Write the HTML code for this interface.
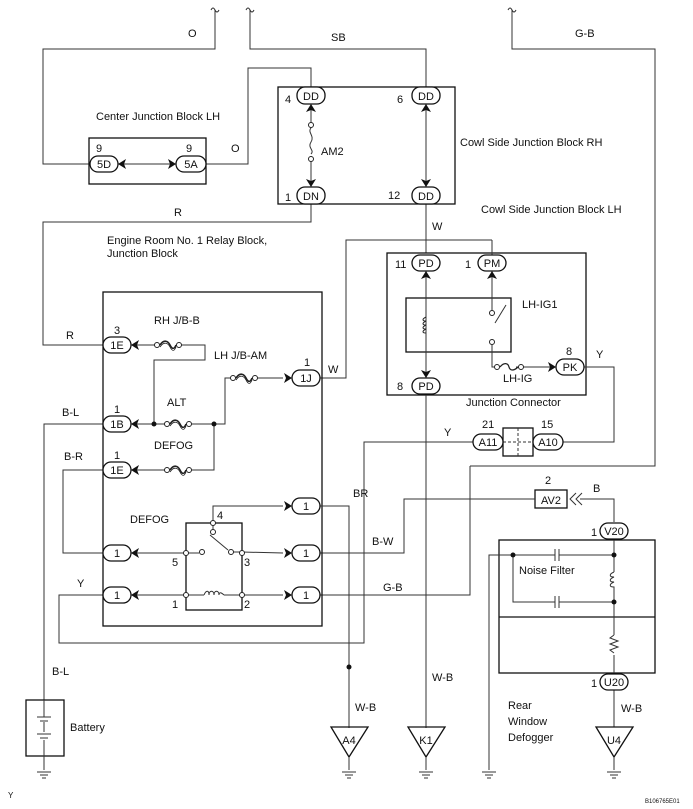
<!DOCTYPE html>
<html><head><meta charset="utf-8"><style>
html,body{margin:0;padding:0;background:#fff}
svg{display:block}
text{font-family:"Liberation Sans",Arial,sans-serif;font-size:11px;fill:#111}
</style></head><body>
<svg width="693" height="809" viewBox="0 0 693 809" xmlns="http://www.w3.org/2000/svg">
<defs>
<g id="chL"><path d="M0,0 L8,-5 L6,0 L8,5 Z" fill="#111"/></g>
<g id="chR"><path d="M0,0 L-8,-5 L-6,0 L-8,5 Z" fill="#111"/></g>
<g id="chU"><path d="M0,0 L-5,8 L0,6 L5,8 Z" fill="#111"/></g>
<g id="chD"><path d="M0,0 L-5,-8 L0,-6 L5,-8 Z" fill="#111"/></g>
<g id="gnd"><line x1="-7" y1="0" x2="7" y2="0" stroke="#333"/><line x1="-4" y1="3" x2="4" y2="3" stroke="#333"/><line x1="-2" y1="6" x2="2" y2="6" stroke="#333"/></g>
<g id="fuse"><circle cx="-11" cy="0" r="2.5" fill="#fff" stroke="#222"/><circle cx="11" cy="0" r="2.5" fill="#fff" stroke="#222"/><path d="M-8,0 C-4,-6 0,-4 2,0 S6,5 8,0" fill="none" stroke="#222" stroke-width="1.6"/><path d="M-8,2 C-4,-4 0,-2 2,2 S6,7 8,2" fill="none" stroke="#222" stroke-width="0.8"/></g>
</defs>
<g fill="none" stroke="#333" stroke-width="1">
<path d="M215,10 L215,49 L43,49 L43,164 L89,164"/>
<path d="M211,10 q2,-4 4,0 q2,4 4,0"/>
<path d="M250,10 L250,49 L426,49 L426,87"/>
<path d="M246,10 q2,-4 4,0 q2,4 4,0"/>
<path d="M512,10 L512,49 L655,49 L655,466 L470,466" />
<path d="M508,10 q2,-4 4,0 q2,4 4,0"/>
<rect x="89" y="138" width="117" height="46" stroke="#111" stroke-width="1.3"/>
<path d="M118,164 L176,164"/>
<path d="M206,164 L248,164 L248,68 L311,68 L311,87"/>
<rect x="278" y="87" width="177" height="117" stroke="#111" stroke-width="1.3"/>
<path d="M311,104 L311,128"/><path d="M311,156 L311,187"/>
<path d="M311,128 c-4,4 4,8 0,14 s4,8 0,12" />
<path d="M426,104 L426,187"/>
<path d="M311,204 L311,222 L43,222 L43,345 L103,345"/>
<path d="M426,204 L426,253"/>
<rect x="387" y="253" width="199" height="142" stroke="#111" stroke-width="1.3"/>
<rect x="406" y="298" width="105" height="54" stroke="#111" stroke-width="1.3"/>
<path d="M426,271 L426,378"/>
<path d="M492,271 L492,311"/>
<path d="M492,240 L492,255 M492,240 L346,240 L346,378 L320,378"/>
<path d="M495,323 L506,305"/>
<path d="M492,345 L492,367 L494,367"/>
<path d="M516,367 L556,367"/>
<path d="M426,395 L426,728"/>
<path d="M584,367 L614,367 L614,442 L563,442"/>
<path d="M473,442 L364,442 L364,643 L59,643 L59,595 L103,595"/>
<rect x="503" y="428" width="30" height="28" stroke="#111" stroke-width="1.3"/>
<path d="M518,428 L518,456 M503,442 L533,442" stroke-dasharray="3,2"/>
<path d="M470,466 L470,595 L320,595"/>
<rect x="535" y="490" width="32" height="18" stroke="#111" stroke-width="1.3"/>
<path d="M535,499 L404,499 L404,553 L320,553"/>
<path d="M580,499 L614,499 L614,522"/>
<path d="M576,493 L570,499 L576,505 M582,493 L576,499 L582,505"/>
<rect x="499" y="540" width="156" height="133" stroke="#111" stroke-width="1.3"/>
<path d="M499,617 L655,617" stroke="#111" stroke-width="1.3"/>
<path d="M614,540 L614,572 M614,592 L614,635 M614,655 L614,673"/>
<path d="M614,572 c-5,2 -5,5 0,5 c-5,2 -5,5 0,5 c-5,2 -5,5 0,5 L614,592"/>
<path d="M614,635 l-4,3 l8,3 l-8,3 l8,3 l-8,3 l4,3"/>
<path d="M489,770 L489,555 L555,555 M559,555 L614,555"/>
<path d="M555,549 L555,561 M559,549 L559,561"/>
<path d="M513,555 L513,602 L555,602 M559,602 L614,602"/>
<path d="M555,596 L555,608 M559,596 L559,608"/>
<path d="M614,690 L614,727"/>
<rect x="103" y="292" width="219" height="334" stroke="#111" stroke-width="1.3"/>
<path d="M131,345 L157,345 M179,345 L205,345 L205,360 L154,360 L154,424"/>
<path d="M131,424 L165,424 M190,424 L225,424 L225,378 L232,378 M256,378 L283,378"/>
<path d="M214,424 L214,470 L190,470 M165,470 L131,470"/>
<path d="M103,424 L44,424 L44,700"/>
<path d="M103,470 L63,470 L63,553 L103,553"/>
<path d="M131,553 L186,553 L199,553"/>
<rect x="186" y="523" width="56" height="87" stroke="#111" stroke-width="1.3"/>
<path d="M213,523 L213,506 L283,506"/>
<path d="M213,523 L213,530"/>
<path d="M210,535 L228,550"/>
<path d="M233,552 L242,552 L283,553"/>
<path d="M131,595 L186,595 L204,595 M224,595 L283,595"/>
<path d="M204,595 c2,-5 5,-5 5,0 c0,-5 5,-5 5,0 c0,-5 5,-5 5,0 c0,-5 5,0 5,0"/>
<path d="M320,506 L349,506 L349,728"/>
<rect x="26" y="700" width="38" height="56" stroke="#111" stroke-width="1.3"/>
<path d="M44,700 L44,717 M37,717 L51,717 M40,721 L48,721 M44,722 L44,732 M37,734 L51,734 M40,738 L48,738 M44,740 L44,770" />
<path d="M331,727 L368,727 L349,757 Z" stroke="#111" stroke-width="1.3"/>
<path d="M408,727 L445,727 L426,757 Z" stroke="#111" stroke-width="1.3"/>
<path d="M596,727 L633,727 L614,757 Z" stroke="#111" stroke-width="1.3"/>
<path d="M349,757 L349,770 M426,757 L426,770 M614,757 L614,770"/>
</g>
<use href="#gnd" x="44" y="772"/><use href="#gnd" x="349" y="772"/><use href="#gnd" x="426" y="772"/><use href="#gnd" x="489" y="772"/><use href="#gnd" x="614" y="772"/>
<g fill="#111"><circle cx="154" cy="424" r="2.5"/><circle cx="214" cy="424" r="2.5"/><circle cx="349" cy="667" r="2.5"/><circle cx="513" cy="555" r="2.5"/><circle cx="614" cy="555" r="2.5"/><circle cx="614" cy="602" r="2.5"/></g>
<g fill="#fff" stroke="#222"><circle cx="311" cy="125" r="2.5"/><circle cx="311" cy="159" r="2.5"/><circle cx="492" cy="313" r="2.5"/><circle cx="492" cy="342" r="2.5"/>
<circle cx="213" cy="523" r="2.5"/><circle cx="213" cy="532" r="2.5"/><circle cx="186" cy="553" r="2.5"/><circle cx="202" cy="552" r="2.5"/><circle cx="231" cy="552" r="2.5"/><circle cx="242" cy="553" r="2.5"/><circle cx="186" cy="595" r="2.5"/><circle cx="242" cy="595" r="2.5"/></g>
<use href="#fuse" x="168" y="345"/><use href="#fuse" x="244" y="378"/><use href="#fuse" x="178" y="424"/><use href="#fuse" x="178" y="470"/>
<g transform="translate(505,367)"><circle cx="-8" cy="0" r="2.5" fill="#fff" stroke="#222"/><circle cx="16" cy="0" r="2.5" fill="#fff" stroke="#222"/><path d="M-5,0 C-1,-5 3,-4 4,0 S9,4 13,0" fill="none" stroke="#222" stroke-width="1.3"/></g>
<path d="M426,317 c-4,2 -4,4 0,4 c-4,2 -4,4 0,4 c-4,2 -4,4 0,4 c-4,2 -4,4 0,4" fill="none" stroke="#222"/>
<g fill="#fff" stroke="#111" stroke-width="1.3">
<rect x="90" y="156" width="28" height="16" rx="8"/><rect x="176" y="156" width="30" height="16" rx="8"/>
<rect x="297" y="87" width="28" height="17" rx="8"/><rect x="297" y="187" width="28" height="17" rx="8"/>
<rect x="412" y="87" width="28" height="17" rx="8"/><rect x="412" y="187" width="28" height="17" rx="8"/>
<rect x="412" y="255" width="28" height="16" rx="8"/><rect x="478" y="255" width="28" height="16" rx="8"/>
<rect x="412" y="378" width="28" height="16" rx="8"/><rect x="556" y="359" width="28" height="16" rx="8"/>
<rect x="473" y="434" width="30" height="16" rx="8"/><rect x="533" y="434" width="30" height="16" rx="8"/>
<rect x="600" y="523" width="28" height="16" rx="8"/><rect x="600" y="674" width="28" height="16" rx="8"/>
<rect x="103" y="337" width="28" height="16" rx="8"/><rect x="103" y="416" width="28" height="16" rx="8"/><rect x="103" y="462" width="28" height="16" rx="8"/>
<rect x="103" y="545" width="28" height="16" rx="8"/><rect x="103" y="587" width="28" height="16" rx="8"/>
<rect x="292" y="370" width="28" height="16" rx="8"/><rect x="292" y="498" width="28" height="16" rx="8"/><rect x="292" y="545" width="28" height="16" rx="8"/><rect x="292" y="587" width="28" height="16" rx="8"/>
</g>
<use href="#chL" x="118" y="164"/><use href="#chR" x="176" y="164"/>
<use href="#chU" x="311" y="104"/><use href="#chD" x="311" y="187"/><use href="#chU" x="426" y="104"/><use href="#chD" x="426" y="187"/>
<use href="#chU" x="426" y="271"/><use href="#chU" x="492" y="271"/><use href="#chD" x="426" y="378"/><use href="#chR" x="556" y="367"/>
<use href="#chL" x="131" y="345"/><use href="#chL" x="131" y="424"/><use href="#chL" x="131" y="470"/><use href="#chL" x="131" y="553"/><use href="#chL" x="131" y="595"/>
<use href="#chR" x="292" y="378"/><use href="#chR" x="292" y="506"/><use href="#chR" x="292" y="553"/><use href="#chR" x="292" y="595"/>
<g text-anchor="middle">
<text x="104" y="168">5D</text><text x="191" y="168">5A</text>
<text x="311" y="100">DD</text><text x="311" y="200">DN</text><text x="426" y="100">DD</text><text x="426" y="200">DD</text>
<text x="426" y="267">PD</text><text x="492" y="267">PM</text><text x="426" y="390">PD</text><text x="570" y="371">PK</text>
<text x="488" y="446">A11</text><text x="548" y="446">A10</text>
<text x="614" y="535">V20</text><text x="614" y="686">U20</text>
<text x="551" y="504">AV2</text>
<text x="117" y="349">1E</text><text x="117" y="428">1B</text><text x="117" y="474">1E</text><text x="117" y="557">1</text><text x="117" y="599">1</text>
<text x="306" y="382">1J</text><text x="306" y="510">1</text><text x="306" y="557">1</text><text x="306" y="599">1</text>
</g>
<g>
<text x="96" y="152">9</text><text x="186" y="152">9</text>
<text x="285" y="103">4</text><text x="285" y="201">1</text><text x="397" y="103">6</text><text x="388" y="199">12</text>
<text x="395" y="268">11</text><text x="465" y="268">1</text><text x="397" y="390">8</text><text x="566" y="355">8</text>
<text x="482" y="428">21</text><text x="541" y="428">15</text><text x="545" y="484">2</text>
<text x="591" y="536">1</text><text x="591" y="687">1</text>
<text x="114" y="334">3</text><text x="114" y="413">1</text><text x="114" y="459">1</text><text x="304" y="366">1</text>
<text x="217" y="519">4</text><text x="172" y="566">5</text><text x="244" y="566">3</text><text x="172" y="608">1</text><text x="244" y="608">2</text>
<text x="188" y="37">O</text><text x="331" y="41">SB</text><text x="575" y="37">G-B</text>
<text x="96" y="120">Center Junction Block LH</text><text x="231" y="152">O</text>
<text x="321" y="155">AM2</text>
<text x="460" y="146">Cowl Side Junction Block RH</text>
<text x="481" y="213">Cowl Side Junction Block LH</text>
<text x="174" y="216">R</text>
<text x="107" y="244">Engine Room No. 1 Relay Block,</text><text x="107" y="257">Junction Block</text>
<text x="432" y="230">W</text>
<text x="522" y="308">LH-IG1</text><text x="503" y="382">LH-IG</text><text x="596" y="358">Y</text>
<text x="466" y="406">Junction Connector</text>
<text x="444" y="436">Y</text>
<text x="154" y="324">RH J/B-B</text><text x="214" y="359">LH J/B-AM</text>
<text x="66" y="339">R</text><text x="328" y="373">W</text>
<text x="62" y="416">B-L</text><text x="167" y="406">ALT</text><text x="154" y="449">DEFOG</text><text x="64" y="460">B-R</text>
<text x="353" y="497">BR</text><text x="130" y="523">DEFOG</text>
<text x="372" y="545">B-W</text><text x="383" y="591">G-B</text><text x="77" y="587">Y</text>
<text x="593" y="492">B</text>
<text x="519" y="574">Noise Filter</text>
<text x="52" y="675">B-L</text><text x="70" y="731">Battery</text>
<text x="355" y="711">W-B</text><text x="432" y="681">W-B</text><text x="621" y="712">W-B</text>
<text x="508" y="709">Rear</text><text x="508" y="725">Window</text><text x="508" y="741">Defogger</text>
<text x="8" y="798" style="font-size:8px">Y</text>
<text x="645" y="803" style="font-size:6px">B106765E01</text>
</g>
<g text-anchor="middle"><text x="426" y="744">K1</text><text x="349" y="744">A4</text><text x="614" y="744">U4</text></g>
</svg>
</body></html>
